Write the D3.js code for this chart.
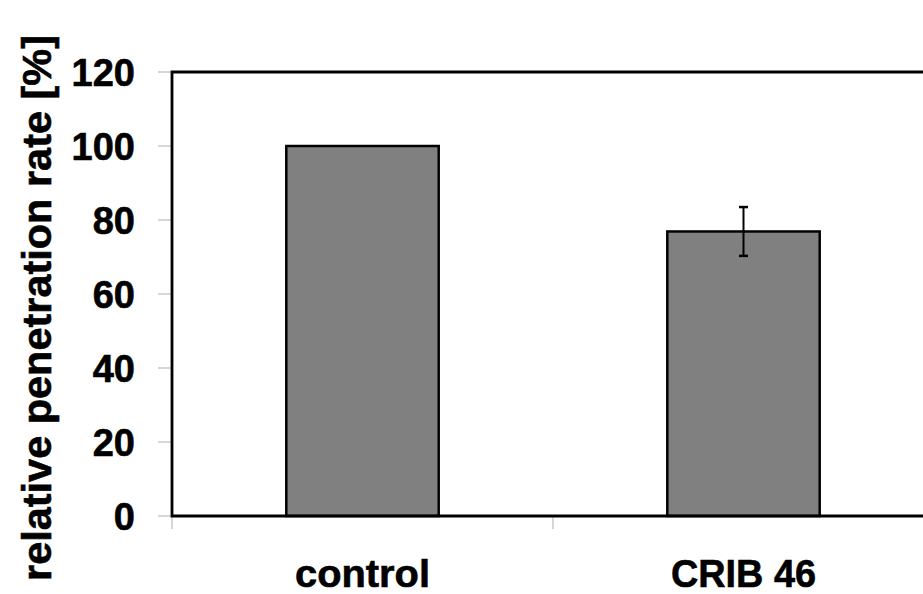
<!DOCTYPE html>
<html>
<head>
<meta charset="utf-8">
<script src="https://cdn.jsdelivr.net/npm/d3@7"></script>
<style>
  html, body { margin: 0; padding: 0; background: #fff; }
  svg { display: block; }
  text { font-family: "Liberation Sans", Arial, Helvetica, sans-serif; font-weight: bold; fill: #000; stroke: #000; stroke-width: 0.6px; }
</style>
</head>
<body>
<svg id="chart" width="923" height="594"></svg>
<script>
// Data
const categories = ["control", "CRIB 46"];
const values = [100, 76.9];
const errors = [0, 6.6];
const yTicks = [0, 20, 40, 60, 80, 100, 120];
const yTitle = "relative penetration rate [%]";

const svg = d3.select("#chart");
const plot = { left: 172, right: 934, top: 72, bottom: 516 };

const x = d3.scaleBand().domain(categories).range([plot.left, plot.right]).paddingInner(0).paddingOuter(0);
const y = d3.scaleLinear().domain([0, 120]).range([plot.bottom, plot.top]);
const barW = x.bandwidth() * 0.4;

// Light tick marks outside the frame
svg.append("g").selectAll("line").data(yTicks).join("line")
  .attr("x1", plot.left - 14).attr("x2", plot.left - 1)
  .attr("y1", d => y(d)).attr("y2", d => y(d))
  .attr("stroke", "#c8c8c8").attr("stroke-width", 1.5);

const bounds = categories.map(c => x(c));
svg.append("g").selectAll("line").data(bounds).join("line")
  .attr("x1", d => d).attr("x2", d => d)
  .attr("y1", plot.bottom + 1).attr("y2", plot.bottom + 13)
  .attr("stroke", "#c8c8c8").attr("stroke-width", 1.5);

// Bars
svg.append("g").selectAll("rect").data(categories).join("rect")
  .attr("x", d => x(d) + (x.bandwidth() - barW) / 2)
  .attr("y", (d, i) => y(values[i]))
  .attr("width", barW)
  .attr("height", (d, i) => y(0) - y(values[i]))
  .attr("fill", "#808080")
  .attr("stroke", "#000")
  .attr("stroke-width", 2.5);

// Error bars
const eg = svg.append("g").attr("stroke", "#000").attr("stroke-width", 2);
categories.forEach((c, i) => {
  if (!errors[i]) return;
  const cx = x(c) + x.bandwidth() / 2;
  const hi = y(values[i] + errors[i]), lo = y(values[i] - errors[i]);
  eg.append("line").attr("x1", cx).attr("x2", cx).attr("y1", hi).attr("y2", lo);
  eg.append("line").attr("x1", cx - 4.5).attr("x2", cx + 4.5).attr("y1", hi).attr("y2", hi).attr("stroke-width", 2.5);
  eg.append("line").attr("x1", cx - 4.5).attr("x2", cx + 4.5).attr("y1", lo).attr("y2", lo).attr("stroke-width", 2.5);
});

// Frame (left, top, bottom)
svg.append("path")
  .attr("d", `M${plot.right},${plot.top} H${plot.left} V${plot.bottom} H${plot.right}`)
  .attr("fill", "none").attr("stroke", "#000").attr("stroke-width", 2.8);

// Y tick labels
svg.append("g").selectAll("text").data(yTicks).join("text")
  .attr("x", 135)
  .attr("y", d => y(d))
  .attr("dy", "0.36em")
  .attr("text-anchor", "end")
  .attr("font-size", 38)
  .text(d => d);

// Category labels
svg.append("g").selectAll("text").data(categories).join("text")
  .attr("x", d => x(d) + x.bandwidth() / 2)
  .attr("y", 587)
  .attr("text-anchor", "middle")
  .attr("font-size", 38)
  .attr("textLength", (d, i) => i === 0 ? 135 : 145)
  .attr("lengthAdjust", "spacingAndGlyphs")
  .text(d => d);

// Y axis title
svg.append("text")
  .attr("transform", "translate(51,308) rotate(-90)")
  .attr("text-anchor", "middle")
  .attr("font-size", 40)
  .attr("textLength", 546)
  .attr("lengthAdjust", "spacingAndGlyphs")
  .text(yTitle);
</script>
</body>
</html>
